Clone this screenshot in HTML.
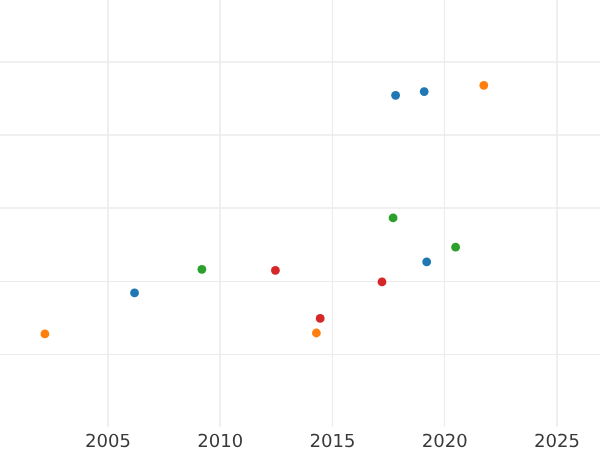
<!DOCTYPE html>
<html><head><meta charset="utf-8"><style>
html,body{margin:0;padding:0;background:#fff;width:600px;height:450px;overflow:hidden}
svg{display:block}
</style></head><body>
<svg width="600" height="450" viewBox="0 0 600 450">
<defs><path id="g0" d="M651 1360Q495 1360 416.5 1206.5Q338 1053 338 745Q338 438 416.5 284.5Q495 131 651 131Q808 131 886.5 284.5Q965 438 965 745Q965 1053 886.5 1206.5Q808 1360 651 1360ZM651 1520Q902 1520 1034.5 1321.5Q1167 1123 1167 745Q1167 368 1034.5 169.5Q902 -29 651 -29Q400 -29 267.5 169.5Q135 368 135 745Q135 1123 267.5 1321.5Q400 1520 651 1520Z"/><path id="g1" d="M254 170H584V1309L225 1237V1421L582 1493H784V170H1114V0H254Z"/><path id="g2" d="M393 170H1098V0H150V170Q265 289 463.5 489.5Q662 690 713 748Q810 857 848.5 932.5Q887 1008 887 1081Q887 1200 803.5 1275.0Q720 1350 586 1350Q491 1350 385.5 1317.0Q280 1284 160 1217V1421Q282 1470 388.0 1495.0Q494 1520 582 1520Q814 1520 952.0 1404.0Q1090 1288 1090 1094Q1090 1002 1055.5 919.5Q1021 837 930 725Q905 696 771.0 557.5Q637 419 393 170Z"/><path id="g5" d="M221 1493H1014V1323H406V957Q450 972 494.0 979.5Q538 987 582 987Q832 987 978.0 850.0Q1124 713 1124 479Q1124 238 974.0 104.5Q824 -29 551 -29Q457 -29 359.5 -13.0Q262 3 158 35V238Q248 189 344.0 165.0Q440 141 547 141Q720 141 821.0 232.0Q922 323 922 479Q922 635 821.0 726.0Q720 817 547 817Q466 817 385.5 799.0Q305 781 221 743Z"/></defs>
<line x1="0" x2="600" y1="62.0" y2="62.0" stroke="#ebebeb" stroke-width="1.6"/>
<line x1="0" x2="600" y1="135.0" y2="135.0" stroke="#ebebeb" stroke-width="1.6"/>
<line x1="0" x2="600" y1="208.0" y2="208.0" stroke="#ebebeb" stroke-width="1.6"/>
<line x1="0" x2="600" y1="281.5" y2="281.5" stroke="#ebebeb" stroke-width="1.15"/>
<line x1="0" x2="600" y1="354.5" y2="354.5" stroke="#ebebeb" stroke-width="1.15"/>
<line x1="108.0" x2="108.0" y1="0" y2="426.8" stroke="#ebebeb" stroke-width="1.6"/>
<line x1="220.0" x2="220.0" y1="0" y2="426.8" stroke="#ebebeb" stroke-width="1.6"/>
<line x1="332.5" x2="332.5" y1="0" y2="426.8" stroke="#ebebeb" stroke-width="1.15"/>
<line x1="444.5" x2="444.5" y1="0" y2="426.8" stroke="#ebebeb" stroke-width="1.15"/>
<line x1="557.0" x2="557.0" y1="0" y2="426.8" stroke="#ebebeb" stroke-width="1.6"/>
<circle cx="44.9" cy="333.9" r="4.4" fill="#ff7f0e"/>
<circle cx="134.55" cy="292.9" r="4.4" fill="#1f77b4"/>
<circle cx="201.9" cy="269.3" r="4.4" fill="#2ca02c"/>
<circle cx="275.4" cy="270.3" r="4.4" fill="#d62728"/>
<circle cx="316.4" cy="333.0" r="4.4" fill="#ff7f0e"/>
<circle cx="320.2" cy="318.4" r="4.4" fill="#d62728"/>
<circle cx="382.0" cy="281.9" r="4.4" fill="#d62728"/>
<circle cx="393.1" cy="217.9" r="4.4" fill="#2ca02c"/>
<circle cx="395.6" cy="95.3" r="4.4" fill="#1f77b4"/>
<circle cx="424.2" cy="91.6" r="4.4" fill="#1f77b4"/>
<circle cx="426.7" cy="261.9" r="4.4" fill="#1f77b4"/>
<circle cx="455.6" cy="247.2" r="4.4" fill="#2ca02c"/>
<circle cx="483.8" cy="85.3" r="4.4" fill="#ff7f0e"/>
<g transform="translate(85.096,447.0) scale(0.008789,-0.008789)" fill="#393939"><use href="#g2" x="0"/><use href="#g0" x="1303"/><use href="#g0" x="2606"/><use href="#g5" x="3909"/></g>
<g transform="translate(197.346,447.0) scale(0.008789,-0.008789)" fill="#393939"><use href="#g2" x="0"/><use href="#g0" x="1303"/><use href="#g1" x="2606"/><use href="#g0" x="3909"/></g>
<g transform="translate(309.596,447.0) scale(0.008789,-0.008789)" fill="#393939"><use href="#g2" x="0"/><use href="#g0" x="1303"/><use href="#g1" x="2606"/><use href="#g5" x="3909"/></g>
<g transform="translate(421.846,447.0) scale(0.008789,-0.008789)" fill="#393939"><use href="#g2" x="0"/><use href="#g0" x="1303"/><use href="#g2" x="2606"/><use href="#g0" x="3909"/></g>
<g transform="translate(534.096,447.0) scale(0.008789,-0.008789)" fill="#393939"><use href="#g2" x="0"/><use href="#g0" x="1303"/><use href="#g2" x="2606"/><use href="#g5" x="3909"/></g>
</svg>
</body></html>
